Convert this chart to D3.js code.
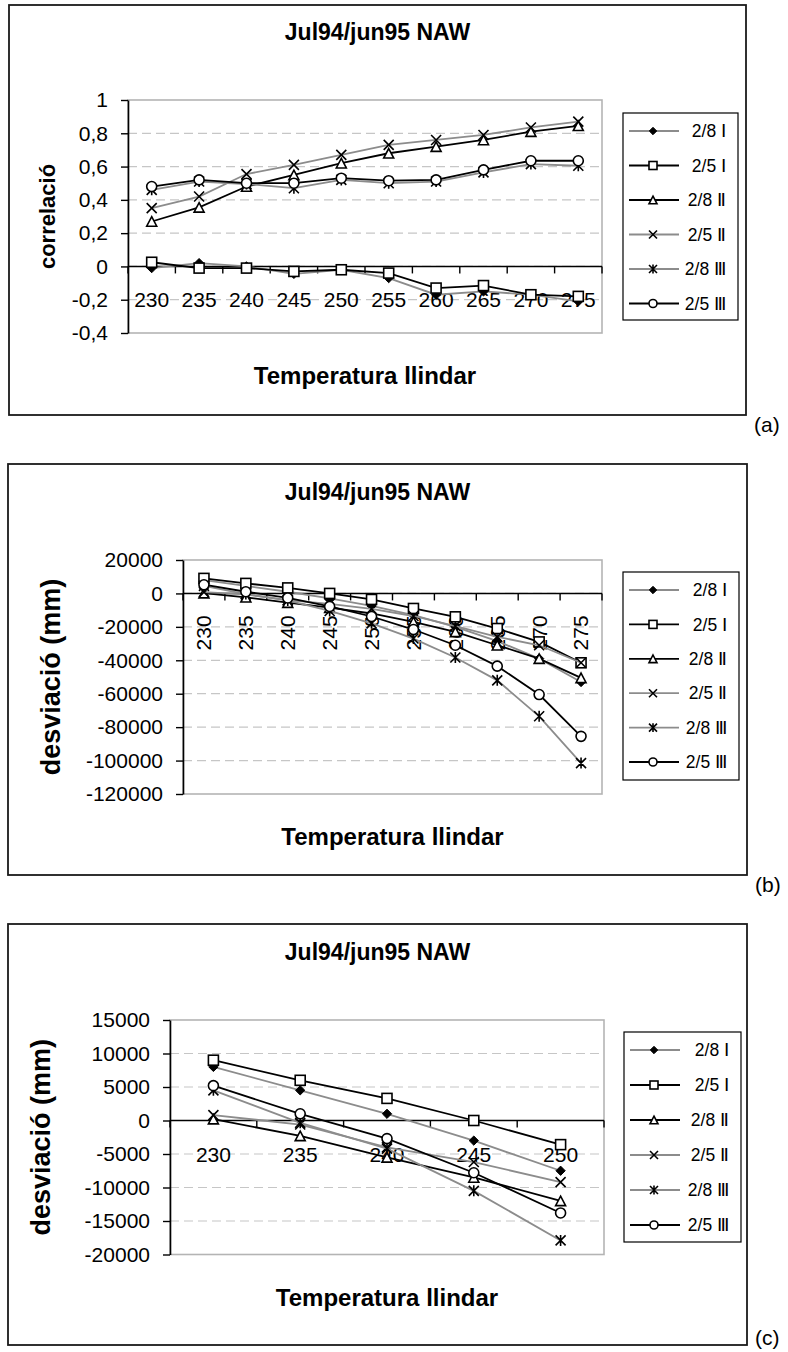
<!DOCTYPE html>
<html>
<head>
<meta charset="utf-8">
<script src="https://cdnjs.cloudflare.com/ajax/libs/d3/7.8.5/d3.min.js"></script>
<style>
  body { margin: 0; background: #fff; }
  svg { display: block; font-family: "Liberation Sans", Arial, sans-serif; }
</style>
</head>
<body>
<div id="chart"></div>
<script>
// categories (threshold temperature)
const temperatures = [230, 235, 240, 245, 250, 255, 260, 265, 270, 275];
const seriesNames = ["2/8 \u2160", "2/5 \u2160", "2/8 \u2161", "2/5 \u2161", "2/8 \u2162", "2/5 \u2162"];

// (a) correlation
const corr28I   = [-0.01, 0.02, 0.0, -0.045, -0.02, -0.07, -0.17, -0.15, -0.17, -0.21];
const corr25I   = [0.025, -0.01, -0.01, -0.03, -0.02, -0.04, -0.13, -0.115, -0.17, -0.18];
const corr28II  = [0.27, 0.355, 0.48, 0.55, 0.62, 0.68, 0.72, 0.76, 0.81, 0.845];
const corr25II  = [0.35, 0.42, 0.555, 0.61, 0.67, 0.73, 0.76, 0.79, 0.835, 0.87];
const corr28III = [0.46, 0.51, 0.495, 0.47, 0.52, 0.50, 0.51, 0.565, 0.615, 0.605];
const corr25III = [0.48, 0.52, 0.50, 0.50, 0.53, 0.515, 0.52, 0.58, 0.635, 0.635];

// (b), (c) deviation (mm)
const dev28I   = [8000, 4500, 1000, -3000, -7500, -13000, -20000, -28500, -39000, -53000];
const dev25I   = [9000, 6000, 3300, 0, -3600, -9000, -14000, -21000, -29000, -41500];
const dev28II  = [200, -2300, -5500, -8500, -12000, -17000, -23000, -31000, -39000, -50500];
const dev25II  = [800, -600, -4000, -6200, -9200, -13500, -19500, -26000, -31000, -41500];
const dev28III = [4500, -350, -4200, -10500, -17900, -27000, -38300, -52000, -73500, -101500];
const dev25III = [5200, 1000, -2700, -7800, -13800, -21600, -31000, -43500, -60500, -85500];

// tick values
const corrTicks = [-0.4, -0.2, 0, 0.2, 0.4, 0.6, 0.8, 1];
const devTicksB = [-120000, -100000, -80000, -60000, -40000, -20000, 0, 20000];
const devTicksC = [-20000, -15000, -10000, -5000, 0, 5000, 10000, 15000];

const seriesColors = ["#8c8c8c", "#000", "#000", "#8c8c8c", "#8c8c8c", "#000"];
const seriesMarkers = ["diamond", "square", "triangle", "cross", "star", "circle"];

const loc = d3.formatLocale({decimal: ",", thousands: "", grouping: [3], currency: ["", ""], minus: "-"});

const width = 788, height = 1352;
const svg = d3.select("#chart").append("svg").attr("width", width).attr("height", height);

function drawMarker(g, type, cx, cy, s) {
  const t = `translate(${cx},${cy})`;
  if (type === "diamond") {
    g.append("path").attr("transform", t).attr("d", d3.symbol(d3.symbolDiamond2, s * s * 0.55)())
      .attr("fill", "#000").attr("stroke", "#000").attr("stroke-width", 1);
  } else if (type === "square") {
    g.append("rect").attr("x", cx - s / 2).attr("y", cy - s / 2).attr("width", s).attr("height", s)
      .attr("fill", "#fff").attr("stroke", "#000").attr("stroke-width", 1.6);
  } else if (type === "triangle") {
    const h = s * 0.95;
    g.append("path").attr("transform", t)
      .attr("d", `M0,${-h / 2}L${s / 2},${h / 2}L${-s / 2},${h / 2}Z`)
      .attr("fill", "#fff").attr("stroke", "#000").attr("stroke-width", 1.6);
  } else if (type === "circle") {
    g.append("circle").attr("cx", cx).attr("cy", cy).attr("r", s / 2)
      .attr("fill", "#fff").attr("stroke", "#000").attr("stroke-width", 1.6);
  } else if (type === "cross") {
    const r = s / 2;
    g.append("path").attr("transform", t)
      .attr("d", `M${-r},${-r}L${r},${r}M${-r},${r}L${r},${-r}`)
      .attr("stroke", "#000").attr("stroke-width", 1.6).attr("fill", "none");
  } else if (type === "star") {
    const r = s / 2;
    g.append("path").attr("transform", t)
      .attr("d", `M${-r},${-r}L${r},${r}M${-r},${r}L${r},${-r}M0,${-r * 1.1}L0,${r * 1.1}`)
      .attr("stroke", "#000").attr("stroke-width", 1.6).attr("fill", "none");
  }
}

function drawPanel(p) {
  const g = svg.append("g");

  g.append("rect").attr("x", p.frame[0]).attr("y", p.frame[1])
    .attr("width", p.frame[2] - p.frame[0]).attr("height", p.frame[3] - p.frame[1])
    .attr("fill", "none").attr("stroke", "#1a1a1a").attr("stroke-width", 1.8);

  g.append("text").attr("x", (p.frame[0] + p.frame[2]) / 2).attr("y", p.titleY)
    .attr("text-anchor", "middle").style("font-size", "23px").style("font-weight", "bold")
    .text("Jul94/jun95 NAW");

  const cats = temperatures.slice(0, p.n);
  const x = d3.scaleBand().domain(cats).range([p.left, p.right]);
  const y = d3.scaleLinear().domain([p.ticks[0], p.ticks[p.ticks.length - 1]]).range([p.bottom, p.top]);
  const y0 = y(0);

  // gridlines
  g.append("g").selectAll("line").data(p.ticks.slice(1, -1)).enter().append("line")
    .attr("x1", p.left).attr("x2", p.right).attr("y1", d => y(d)).attr("y2", d => y(d))
    .attr("stroke", "#c6c6c6").attr("stroke-width", 1.2).attr("stroke-dasharray", "9,5");

  g.append("rect").attr("x", p.left).attr("y", p.top)
    .attr("width", p.right - p.left).attr("height", p.bottom - p.top)
    .attr("fill", "none").attr("stroke", "#b4b4b4").attr("stroke-width", 1.6);

  const yAxis = g.append("g").attr("transform", `translate(${p.left},0)`)
    .call(d3.axisLeft(y).tickValues(p.ticks).tickSize(7).tickSizeOuter(0).tickPadding(13).tickFormat(p.fmt));
  yAxis.select(".domain").attr("stroke", "#000").attr("stroke-width", 1.6);
  yAxis.selectAll(".tick line").attr("stroke", "#000").attr("stroke-width", 1.4);
  yAxis.selectAll(".tick text").style("font-size", "21px").attr("fill", "#000");
  yAxis.attr("font-family", null).attr("font-size", null);

  // category axis at zero
  g.append("line").attr("x1", p.left).attr("x2", p.right).attr("y1", y0).attr("y2", y0)
    .attr("stroke", "#000").attr("stroke-width", 1.6);
  const bounds = cats.map(c => x(c)).concat([p.right]);
  g.append("g").selectAll("line").data(bounds).enter().append("line")
    .attr("x1", d => d).attr("x2", d => d).attr("y1", y0).attr("y2", y0 + 7)
    .attr("stroke", "#000").attr("stroke-width", 1.4);

  const lab = g.append("g").selectAll("text").data(cats).enter().append("text")
    .style("font-size", "21px").text(d => d);
  if (p.rotate) {
    lab.attr("transform", d => `translate(${x(d) + x.bandwidth() / 2},${y0 + 22}) rotate(-90)`)
      .attr("text-anchor", "end").attr("dy", "0.35em");
  } else {
    lab.attr("x", d => x(d) + x.bandwidth() / 2).attr("y", y0 + 41).attr("text-anchor", "middle");
  }

  // series
  const line = d3.line().x((d, i) => x(cats[i]) + x.bandwidth() / 2).y(d => y(d));
  p.series.forEach((vals, k) => {
    const v = vals.slice(0, p.n);
    g.append("path").attr("d", line(v)).attr("fill", "none")
      .attr("stroke", seriesColors[k]).attr("stroke-width", 1.8);
    const mg = g.append("g");
    v.forEach((d, i) => drawMarker(mg, seriesMarkers[k], x(cats[i]) + x.bandwidth() / 2, y(d), 10));
  });

  // legend
  const L = p.legend;
  g.append("rect").attr("x", L.x0).attr("y", L.y0).attr("width", L.x1 - L.x0).attr("height", L.y1 - L.y0)
    .attr("fill", "#fff").attr("stroke", "#000").attr("stroke-width", 1.2);
  seriesNames.forEach((name, k) => {
    const ly = L.y0 + 18 + k * L.step;
    g.append("line").attr("x1", L.x0 + 6).attr("x2", L.x0 + 56).attr("y1", ly).attr("y2", ly)
      .attr("stroke", seriesColors[k]).attr("stroke-width", 1.8);
    drawMarker(g, seriesMarkers[k], L.x0 + 30, ly, 8);
    g.append("text").attr("x", L.x1 - 12).attr("y", ly).attr("dy", "0.35em")
      .attr("text-anchor", "end").style("font-size", "17.5px").text(name);
  });

  // axis titles
  g.append("text").attr("x", (p.left + p.right) / 2).attr("y", p.bottom + 51)
    .attr("text-anchor", "middle").style("font-size", "24px").style("font-weight", "bold")
    .text("Temperatura llindar");
  g.append("text").attr("transform", `translate(${p.yTitleX},${(p.top + p.bottom) / 2}) rotate(-90)`)
    .attr("text-anchor", "middle").style("font-size", p.yTitleSize + "px").style("font-weight", "bold")
    .text(p.yTitle);

  g.append("text").attr("x", p.frame[2] + 8).attr("y", p.frame[3] + p.letterDy)
    .style("font-size", "21px").text(p.letter);
}

drawPanel({
  frame: [9, 5, 746, 415], titleY: 40, n: 10,
  left: 128, right: 602, top: 100, bottom: 333,
  ticks: corrTicks, fmt: loc.format(".1~f"),
  series: [corr28I, corr25I, corr28II, corr25II, corr28III, corr25III],
  legend: {x0: 623, x1: 738, y0: 113, y1: 320, step: 34.5},
  yTitle: "correlació", yTitleSize: 22, yTitleX: 55, letter: "(a)", letterDy: 17
});

drawPanel({
  frame: [8, 464, 747, 875], titleY: 500, n: 10, rotate: true,
  left: 183, right: 602, top: 560, bottom: 794,
  ticks: devTicksB, fmt: loc.format("d"),
  series: [dev28I, dev25I, dev28II, dev25II, dev28III, dev25III],
  legend: {x0: 623, x1: 739, y0: 572, y1: 780, step: 34.4},
  yTitle: "desviació (mm)", yTitleSize: 27, yTitleX: 60, letter: "(b)", letterDy: 17
});

drawPanel({
  frame: [8, 924, 747, 1345], titleY: 960, n: 5,
  left: 170, right: 604, top: 1020, bottom: 1254.5,
  ticks: devTicksC, fmt: loc.format("d"),
  series: [dev28I, dev25I, dev28II, dev25II, dev28III, dev25III],
  legend: {x0: 624, x1: 741, y0: 1032, y1: 1242, step: 35},
  yTitle: "desviació (mm)", yTitleSize: 27, yTitleX: 50, letter: "(c)", letterDy: 0
});
</script>
</body>
</html>
